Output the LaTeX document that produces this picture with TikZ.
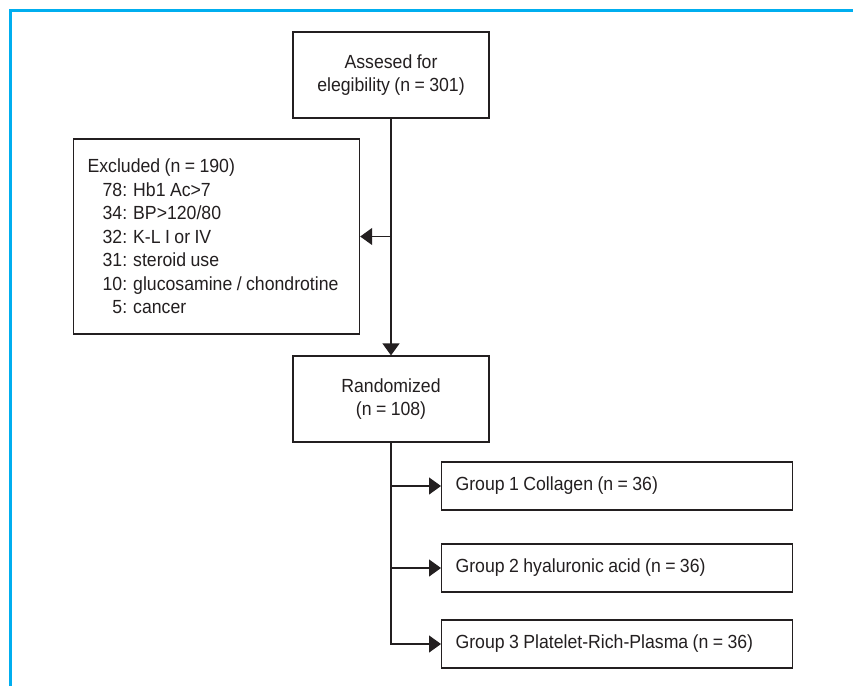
\documentclass[tikz,border=0pt]{standalone}
\usepackage{fontspec}
\setmainfont{Liberation Sans}[FakeStretch=0.93,WordSpace=0.9]
\usetikzlibrary{arrows.meta}
\definecolor{frameblue}{HTML}{00AEEF}
\definecolor{ink}{HTML}{231F20}
\tikzset{
  box/.style={draw=ink, line width=1.2pt, text=ink, font=\fontsize{19}{23.5}\selectfont, inner sep=0pt},
  flow/.style={draw=ink, line width=1.2pt, -{Triangle[length=12pt,width=17pt]}},
}
\begin{document}
\begin{tikzpicture}[x=1pt,y=-1pt]
\useasboundingbox (0,0) rectangle (853,686);
\fill[white] (0,0) rectangle (853,686);
% frame
\draw[frameblue, line width=3pt] (10,686) -- (10,10) -- (853,10);
% nodes
\node[box, minimum width=196pt, minimum height=86pt, align=center] (top) at (391,75)
  {\raisebox{-3pt}{\parbox{190pt}{\centering Assesed for\\elegibility (n = 301)}}};
\node[box, minimum width=286pt, minimum height=195pt, align=left, anchor=west, text width=258pt] (excl) at (73,236.5)
  {\spaceskip=0pt\xspaceskip=0pt\relax
   Excluded (n = 190)\\
   \hspace*{15pt}78: Hb1 Ac>7\\
   \hspace*{15pt}34: BP>120/80\\
   \hspace*{15pt}32: K-L I or IV\\
   \hspace*{15pt}31: steroid use\\
   \hspace*{15pt}10: glucosamine / chondrotine\\
   \hspace*{15pt}\phantom{1}5: cancer};
\node[box, minimum width=196pt, minimum height=86pt, align=center] (rand) at (391,399)
  {Randomized\\(n = 108)};
\node[box, minimum width=351pt, minimum height=48pt, anchor=west, text width=323pt, align=left] (g1) at (441,486)
  {\spaceskip=0pt\xspaceskip=0pt\relax Group 1 Collagen (n = 36)};
\node[box, minimum width=351pt, minimum height=48pt, anchor=west, text width=323pt, align=left] (g2) at (441,568)
  {\spaceskip=0pt\xspaceskip=0pt\relax Group 2 hyaluronic acid (n = 36)};
\node[box, minimum width=351pt, minimum height=48pt, anchor=west, text width=323pt, align=left] (g3) at (441,644)
  {\spaceskip=0pt\xspaceskip=0pt\relax Group 3 Platelet-Rich-Plasma (n = 36)};
% connectors
\draw[flow] (top.south) -- (rand.north);
\draw[flow] (top.south |- excl.east) -- (excl.east);
\draw[flow] (rand.south |- g1.west) -- (g1.west);
\draw[flow] (rand.south |- g2.west) -- (g2.west);
\draw[flow] (rand.south) |- (g3.west);
\end{tikzpicture}
\end{document}
